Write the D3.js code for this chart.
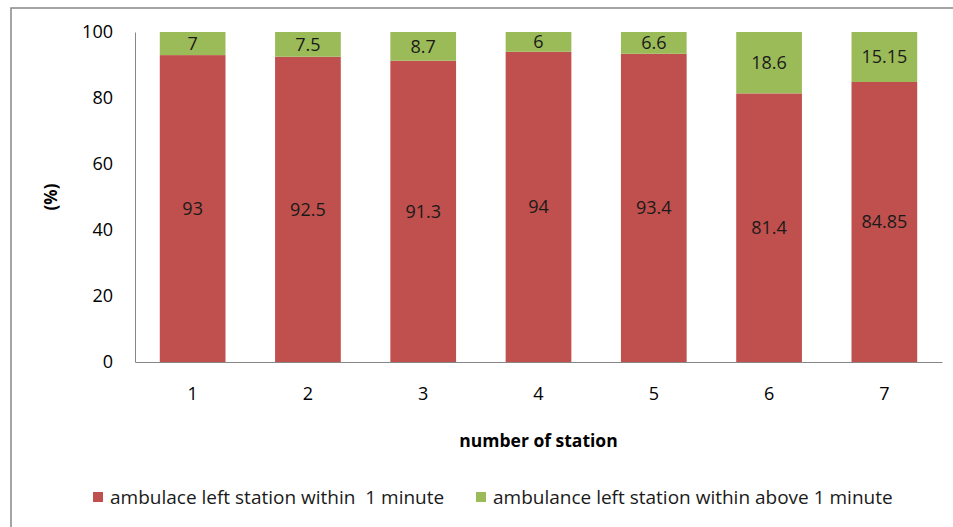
<!DOCTYPE html>
<html><head><meta charset="utf-8">
<script src="https://cdn.jsdelivr.net/npm/d3@7"></script>
<style>body{margin:0;background:#fff;}svg{display:block;font-family:"Open Sans",sans-serif;}</style>
</head><body>
<svg id="c" width="953" height="527"></svg>
<script>
const stations = ["1","2","3","4","5","6","7"];
const within1 = [93, 92.5, 91.3, 94, 93.4, 81.4, 84.85];
const above1 = [7, 7.5, 8.7, 6, 6.6, 18.6, 15.15];
const yTicks = [0, 20, 40, 60, 80, 100];
const seriesNames = ["ambulace left station within  1 minute", "ambulance left station within above 1 minute"];
const colors = ["#C0504D", "#9BBB59"];

const svg = d3.select("#c");
svg.append("rect").attr("x",11).attr("y",8).attr("width",960).attr("height",540)
  .attr("fill","none").attr("stroke","#868686").attr("stroke-width",1.5);

const L = 135, R = 942, T = 32, B = 362;
const x = d3.scaleBand().domain(stations).range([L, R]).paddingInner(0.43).paddingOuter(0.215);
const y = d3.scaleLinear().domain([0, 100]).range([B, T]);

const yAx = svg.append("g").attr("transform",`translate(${L},0)`)
  .call(d3.axisLeft(y).tickValues(yTicks).tickSize(0).tickPadding(22));
yAx.select(".domain").attr("stroke","#868686");
yAx.selectAll("text").attr("font-size",18).attr("fill","#000").attr("font-family",'"Open Sans",sans-serif');

const xAx = svg.append("g").attr("transform",`translate(0,${B})`)
  .call(d3.axisBottom(x).tickSize(0).tickPadding(25));
xAx.select(".domain").attr("stroke","#868686");
xAx.selectAll("text").attr("font-size",18).attr("fill","#000").attr("font-family",'"Open Sans",sans-serif');

const data = stations.map((s,i)=>({s, a: within1[i], b: above1[i]}));
const g = svg.append("g");
g.selectAll(".r").data(data).join("rect")
  .attr("x", d=>x(d.s)).attr("width", x.bandwidth())
  .attr("y", d=>y(d.a)).attr("height", d=>y(0)-y(d.a)).attr("fill", colors[0]);
g.selectAll(".g").data(data).join("rect")
  .attr("x", d=>x(d.s)).attr("width", x.bandwidth())
  .attr("y", d=>y(d.a+d.b)).attr("height", d=>y(d.a)-y(d.a+d.b)).attr("fill", colors[1]);

const lab = svg.append("g").attr("font-family",'"Open Sans",sans-serif').attr("font-size",18).attr("fill","#1a1a1a").attr("text-anchor","middle");
lab.selectAll(".la").data(data).join("text")
  .attr("x", d=>x(d.s)+x.bandwidth()/2).attr("y", d=>y(d.a/2)).attr("dy","0.35em").text(d=>d.a);
lab.selectAll(".lb").data(data).join("text")
  .attr("x", d=>x(d.s)+x.bandwidth()/2).attr("y", d=>y(d.a+d.b/2)).attr("dy","0.35em").text(d=>d.b);

svg.append("text").attr("transform","translate(57,197) rotate(-90)").attr("text-anchor","middle")
  .attr("font-weight","bold").attr("font-size",17).attr("font-family",'"Open Sans",sans-serif').text("(%)");
svg.append("text").attr("x",(L+R)/2).attr("y",441).attr("dy","0.35em").attr("text-anchor","middle")
  .attr("font-weight","bold").attr("font-size",17.5).attr("font-family",'"Open Sans",sans-serif').text("number of station");

const legX = [93, 476];
const leg = svg.append("g").attr("font-family",'"Open Sans",sans-serif').attr("font-size",19);
seriesNames.forEach((n,i)=>{
  leg.append("rect").attr("x",legX[i]).attr("y",492).attr("width",10).attr("height",10).attr("fill",colors[i]);
  leg.append("text").attr("x",legX[i]+17).attr("y",497).attr("dy","0.35em").attr("fill","#1a1a1a").attr("xml:space","preserve").style("white-space","pre").text(n);
});
</script>
</body></html>
